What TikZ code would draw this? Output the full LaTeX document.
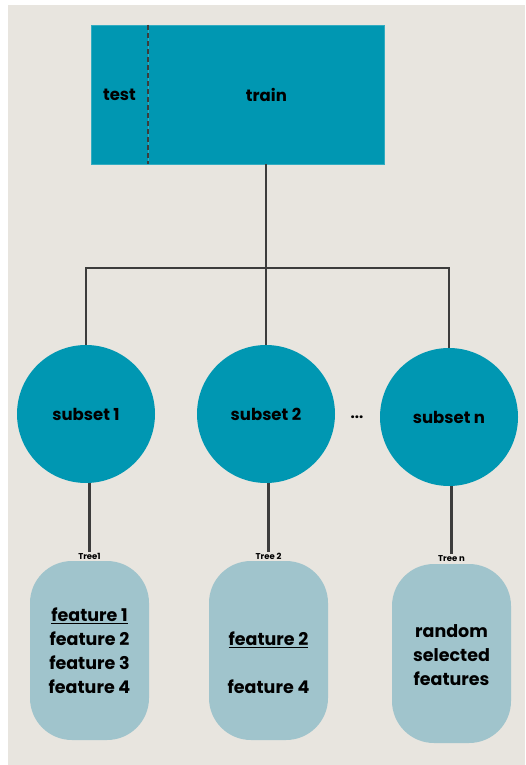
\documentclass[tikz,border=0pt]{standalone}
\usepackage{fontspec}
\setmainfont{Poppins}
\usepackage{tikz}
\usetikzlibrary{positioning,calc}
\definecolor{teal}{RGB}{0,151,178}
\definecolor{paleteal}{RGB}{160,196,204}
\definecolor{paper}{RGB}{232,229,223}
\definecolor{wire}{RGB}{60,60,60}

\begin{document}
\begin{tikzpicture}[x=1pt, y=-1pt,
  split/.style={rectangle, fill=teal, draw=teal!80, minimum height=139pt,
                inner sep=0pt, font=\fontsize{16.5}{19}\selectfont\bfseries},
  subset/.style={circle, fill=teal, minimum size=138pt, inner sep=0pt,
                 font=\fontsize{16.5}{19}\selectfont\bfseries},
  leaf/.style={rectangle, rounded corners=42pt, fill=paleteal,
               minimum width=119pt, minimum height=179pt, inner sep=0pt},
  feat/.style={align=center, font=\fontsize{17.5}{24}\selectfont\bfseries},
  tree/.style={font=\fontsize{8.5}{9}\selectfont\bfseries, inner sep=1pt},
  link/.style={wire, line width=2.4pt},
]
  % page and panel
  \useasboundingbox (0,0) rectangle (525,765);
  \fill[paper] (8,5) rectangle (525,765);

  % data set split into test / train
  \node[split, minimum width=57pt] (test) at (119.5,94.5) {test};
  \node[split, minimum width=236pt, right=0pt of test] (train) {train};
  \draw[wire, line width=2.4pt, dash pattern=on 5pt off 3pt]
    (test.north east) -- (test.south east);

  % bootstrap subsets
  \node[subset] (sub1) at (86,414) {subset 1};
  \node[subset] (sub2) at (266,414) {subset 2};
  \node[subset] (sub3) at (449,417) {subset n};
  \node[font=\fontsize{15}{18}\selectfont\bfseries] (dots) at (357,417) {...};

  \coordinate (fork) at (266,268);
  \draw[link] (fork |- train.south) -- (fork);
  \draw[link] (sub1.north) |- (fork) -| (sub3.north);
  \draw[link] (fork) -- (sub2.north);

  % trees
  \node[leaf] (box1) at (89.5,650.5) {};
  \node[leaf] (box2) at (268.5,650.5) {};
  \node[leaf] (box3) at (451.5,653.5) {};
  \node[tree, above=0pt of box1] (tree1) {Tree1};
  \node[tree, above=0pt of box2] (tree2) {Tree 2};
  \node[tree, above=1pt of box3] (tree3) {Tree n};
  \draw[link] (tree1.north |- sub1.south) -- (tree1.north);
  \draw[link] (tree2.north |- sub2.south) -- (tree2.north);
  \draw[link] (tree3.north |- sub3.south) -- (tree3.north);

  % selected features
  \node[feat] (feat1) at (box1.center) {\underline{feature 1}\\feature 2\\feature 3\\feature 4};
  \node[feat] (feat2) at ([yshift=-12pt]box2.center) {\underline{feature 2}\\[24pt]feature 4};
  \node[feat] (feat3) at ([yshift=-2pt]box3.center) {random\\selected\\features};
\end{tikzpicture}
\end{document}
